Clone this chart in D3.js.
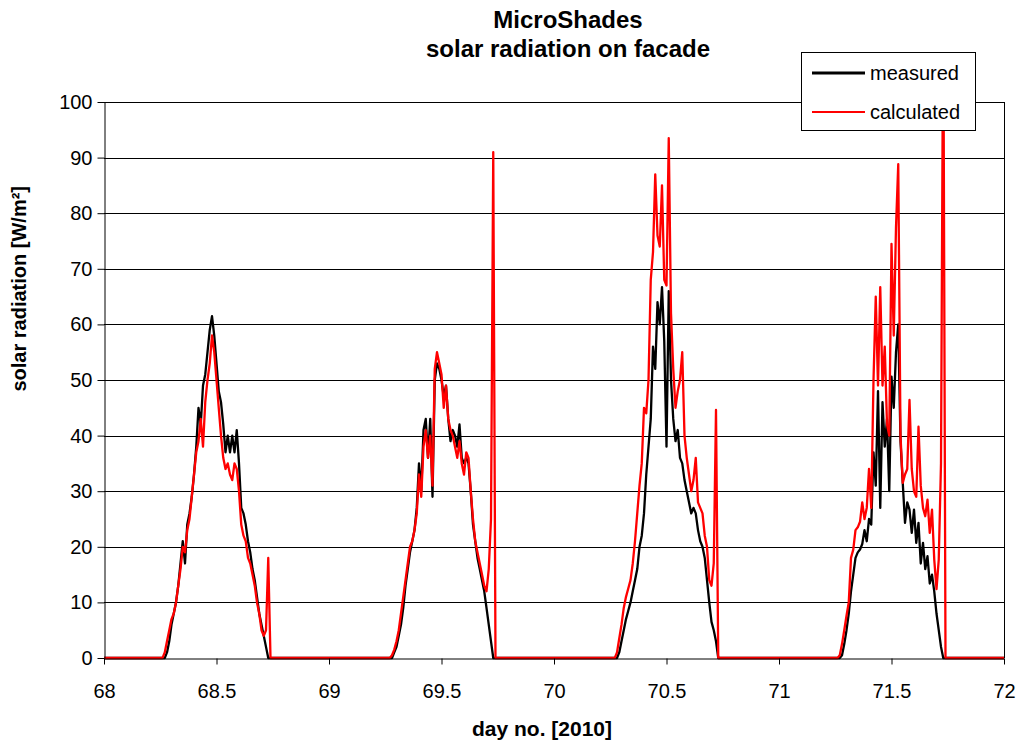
<!DOCTYPE html>
<html><head><meta charset="utf-8">
<script src="https://cdn.jsdelivr.net/npm/d3@7"></script>
<style>
body{margin:0;background:#fff}
text{font-family:"Liberation Sans",Arial,sans-serif;fill:#000}
</style>
</head><body>
<svg id="chart" width="1022" height="745"></svg>
<script>
// ---- data ----
const xTicks = [68, 68.5, 69, 69.5, 70, 70.5, 71, 71.5, 72];
const xTickLabels = ["68", "68.5", "69", "69.5", "70", "70.5", "71", "71.5", "72"];
const yTicks = [0, 10, 20, 30, 40, 50, 60, 70, 80, 90, 100];
const seriesNames = ["measured", "calculated"];
const sampleStep = 0.01; // day
const xDomain = [68, 72];

const measuredStarts = [68.26, 69.28, 70.28, 71.27];
const measured68 = [0,0,1,3,6,8,10,13,17,21,17,24,26,29,33,38,45,42,49,51,55,59,61.5,58,53,48,46,42,37,40,37,40,37,41,35,27,26,24,21,19,16,14,11,8,6,4,2,0];
const measured69 = [0,1,2,4,6,9,13,16,19,21,23,27,35,30,41,43,36,43,29,50,53,52,50,47,49,43,39,41,40,38,42,36,35,36,35,30,24,21,18,16,14,12,9,6,3,0];
const measured70 = [0,1,3,5,7,8.5,10,12,14,16,20,22,26,33,38,43,56,52,64,60,66.7,57,38,66,50,43,39,41,36,35,32,30,28,26,27,26,23,21,20,18,14,10,6.5,5,3,0];
const measured71 = [0,0.5,2.5,5,8,12,15,18,19,19.5,20.5,23,21,25,24,37,31,48,27,46,38,43,30,50.6,45,55,60,39,31.5,24.3,28,26.7,22.5,26.7,20.7,24.3,17,20.7,16,18.3,13.4,15,12,8,5,2,0];

const calculatedStarts = [68.26, 69.27, 70.27, 71.26];
const calculated68 = [0,1,3,5,7,8,10,13,16,20,19,23,25,29,33,37,39,43,38,46,50,53,58,55,50,45,40,36,34,35,33,32,35,34,30,24,22,21,18,17,15,13,10,8,5,4,5,18,0];
const calculated69 = [0,0.5,1.5,3,5,8,11,14,17,20,21,23,26,33,29,38,41,36,40,31,52,55,53,51,45,49,43,41,40,38,36,39,35,33,37,36,30,25,21,19,17,15,13,12,16,25,91,0];
const calculated70 = [0,1,3.5,6,9,11,12.5,14,17,21,26,31,35,45,44,50,68,73,87,76,74,85,68,67,93.5,62,52,45,48,50,55,40,36,33,30,32,36,28,27,26,22,20,14,13,17,44.6,0];
const calculated71 = [0,0.5,2.5,5,7.6,10,18,19.5,23,23.5,24.5,28,25,27,34,27,50,65,49,66.7,49,56,42,40,74.5,58,77.5,88.8,40,31.5,33,34,46.4,34,30,29,41.6,31,27,25.5,28.5,22.5,26.7,17.7,12.4,17.7,35,120,0];

const colors = {measured: "#000000", calculated: "#ff0000"};

// ---- build series ----
function buildSeries(starts, days) {
  const pts = [[xDomain[0], 0]];
  days.forEach((vals, i) => {
    vals.forEach((v, j) => pts.push([starts[i] + j * sampleStep, v]));
  });
  pts.push([xDomain[1], 0]);
  return pts;
}
const series = {
  measured: buildSeries(measuredStarts, [measured68, measured69, measured70, measured71]),
  calculated: buildSeries(calculatedStarts, [calculated68, calculated69, calculated70, calculated71])
};

// ---- layout ----
const svg = d3.select("#chart");
const plot = {left: 104, right: 1004, top: 102, bottom: 658};
const x = d3.scaleLinear().domain(xDomain).range([plot.left, plot.right]);
const y = d3.scaleLinear().domain([0, 100]).range([plot.bottom, plot.top]);

svg.append("rect").attr("width", 1022).attr("height", 745).attr("fill", "#fff");

// gridlines
svg.append("g").selectAll("line").data(yTicks.filter(d => d > 0)).join("line")
  .attr("x1", plot.left).attr("x2", plot.right)
  .attr("y1", d => Math.round(y(d)) + 0.5).attr("y2", d => Math.round(y(d)) + 0.5)
  .attr("stroke", "#000").attr("stroke-width", 1);

// right border
svg.append("line").attr("x1", plot.right + 0.5).attr("x2", plot.right + 0.5)
  .attr("y1", plot.top).attr("y2", plot.bottom).attr("stroke", "#000");

// clip
svg.append("clipPath").attr("id", "clip").append("rect")
  .attr("x", plot.left).attr("y", plot.top).attr("width", plot.right - plot.left).attr("height", plot.bottom - plot.top + 2);

const line = d3.line().x(d => x(d[0])).y(d => y(d[1]));
const lines = svg.append("g").attr("clip-path", "url(#clip)");
seriesNames.forEach(name => {
  lines.append("path").datum(series[name])
    .attr("fill", "none").attr("stroke", colors[name]).attr("stroke-width", 2.3)
    .attr("stroke-linejoin", "round").attr("d", line);
});

// axes
const yAxis = svg.append("g").attr("transform", `translate(${plot.left + 0.5},0)`)
  .call(d3.axisLeft(y).tickValues(yTicks).tickSize(7).tickPadding(5).tickSizeOuter(0));
const xAxis = svg.append("g").attr("transform", `translate(0,${Math.round(plot.bottom) + 0.5})`)
  .call(d3.axisBottom(x).tickValues(xTicks).tickFormat((d, i) => xTickLabels[i]).tickSize(6).tickPadding(19).tickSizeOuter(0));
[yAxis, xAxis].forEach(g => {
  g.selectAll("path,line").attr("stroke", "#000");
  g.selectAll("text").attr("font-size", 20).attr("font-family", "Liberation Sans, Arial, sans-serif");
});

// titles
svg.append("text").attr("x", 568).attr("y", 28).attr("text-anchor", "middle")
  .attr("font-size", 24).attr("font-weight", "bold").text("MicroShades");
svg.append("text").attr("x", 568).attr("y", 57).attr("text-anchor", "middle")
  .attr("font-size", 24).attr("font-weight", "bold").text("solar radiation on facade");
svg.append("text").attr("x", 542).attr("y", 736).attr("text-anchor", "middle")
  .attr("font-size", 21).attr("font-weight", "bold").text("day no. [2010]");
svg.append("text").attr("transform", "translate(26,186) rotate(-90)").attr("text-anchor", "end")
  .attr("font-size", 20).attr("font-weight", "bold").text("solar radiation [W/m²]");

// legend
const lg = svg.append("g");
lg.append("rect").attr("x", 801.5).attr("y", 52.5).attr("width", 174).attr("height", 78)
  .attr("fill", "#fff").attr("stroke", "#000");
seriesNames.forEach((name, i) => {
  const cy = 73 + i * 39;
  lg.append("line").attr("x1", 812).attr("x2", 865).attr("y1", cy).attr("y2", cy)
    .attr("stroke", colors[name]).attr("stroke-width", name === "measured" ? 3 : 2);
  lg.append("text").attr("x", 870).attr("y", cy + 7).attr("font-size", 20).text(name);
});
</script>
</body></html>
